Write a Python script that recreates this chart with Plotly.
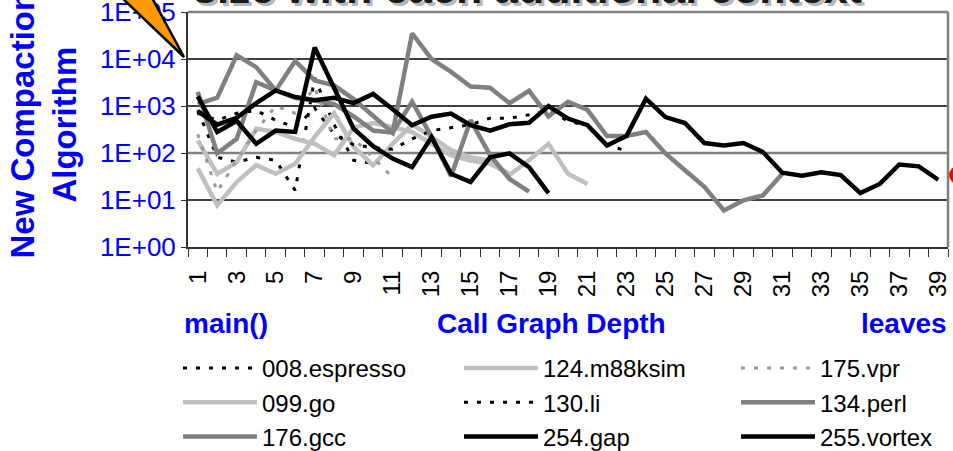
import plotly.graph_objects as go

# ---------------- data ----------------
depth = list(range(1, 40))
tick_vals = list(range(1, 40, 2))
tick_text = [str(v) for v in tick_vals]
y_tick_vals = [1, 10, 100, 1000, 10000, 100000]
y_tick_text = ["1E+00", "1E+01", "1E+02", "1E+03", "1E+04", "1E+05"]

espresso_008 = [810, 81, 64, 81, 70, 16, 4000, 400, 70, 60]
go_099 = [47, 7.7, 24, 55, 36, 59, 220, 700, 135, 55, 157, 400, 220, 115, 81, 69, 34, 70, 157, 36, 22]
m88ksim_124 = [186, 36, 64, 330, 280, 200, 157, 90, 350, 435, 355, 280, 157, 89, 69, 59, 36]
li_130 = [700, 500, 700, 800, 500, 350, 900, 250, 150, 130, 120, 200, 300, 350, 400, 550, 550, 650, 800, 480, 380, 150, 110]
perl_134 = [1100, 1500, 12000, 6700, 2150, 1500, 1300, 1100, 600, 300, 270, 1230, 220, 32, 500, 90, 28, 15]
vpr_175 = [250, 15, 70, 300, 1000, 700, 2500, 200, 200, 80, 30]
gcc_176 = [2000, 98, 200, 3200, 2150, 9100, 3500, 2750, 1400, 600, 270, 35000, 10000, 5300, 2600, 2450,
           1150, 2100, 600, 1230, 830, 230, 230, 280, 98, 43, 19, 6, 9.8, 12.5, 36]
gap_254 = [1600, 280, 480, 157, 300, 280, 17500, 2300, 330, 140, 76, 50, 218, 36, 24, 81, 98, 50, 14]
vortex_255 = [780, 400, 560, 1150, 2150, 1550, 1320, 1500, 1150, 1800, 850, 390, 590, 690, 390, 300,
              410, 440, 1000, 540, 390, 145, 230, 1430, 580, 435, 163, 145, 163, 105, 38, 33, 39, 34,
              14, 22, 57, 52, 27]

# ---------------- geometry helpers (pixels -> paper / container) ----------------
W, H = 953, 451
ML, MR, MT, MB = 188, 5, 12, 204
PW, PH = W - ML - MR, H - MT - MB


def px_x(px):
    return (px - ML) / PW


def px_y(py):
    return (H - MB - py) / PH


def cx(px):
    return px / W


def cy(py):
    return 1 - py / H


LIGHT = "#C0C0C0"
MID = "#808080"
DOT = "4px,9px"

series = [
    ("008.espresso", espresso_008, "black", 3, DOT, "legend", 1),
    ("099.go", go_099, LIGHT, 4.5, "solid", "legend", 2),
    ("124.m88ksim", m88ksim_124, LIGHT, 4.5, "solid", "legend2", 1),
    ("130.li", li_130, "black", 3, DOT, "legend2", 2),
    ("134.perl", perl_134, MID, 4.5, "solid", "legend3", 2),
    ("175.vpr", vpr_175, "#999999", 3, DOT, "legend3", 1),
    ("176.gcc", gcc_176, MID, 4.5, "solid", "legend", 3),
    ("254.gap", gap_254, "black", 4.5, "solid", "legend2", 3),
    ("255.vortex", vortex_255, "black", 4.5, "solid", "legend3", 3),
]

fig = go.Figure()
for name, vals, color, width, dash, leg, rank in series:
    fig.add_trace(go.Scatter(
        x=depth[:len(vals)], y=vals, name=name, mode="lines",
        line=dict(color=color, width=width, dash=dash),
        legend=leg, legendrank=rank,
    ))

FONT = "Arial, Liberation Sans, sans-serif"
leg_common = dict(orientation="v", xanchor="left", yanchor="top", bgcolor="rgba(0,0,0,0)",
                  xref="container", yref="container",
                  font=dict(family=FONT, size=24, color="black"), itemwidth=74,
                  tracegroupgap=0, y=cy(346))

fig.update_layout(
    width=W, height=H,
    margin=dict(l=ML, r=MR, t=MT, b=MB, autoexpand=False),
    paper_bgcolor="white", plot_bgcolor="white",
    legend=dict(x=cx(178), **leg_common),
    legend2=dict(x=cx(459), **leg_common),
    legend3=dict(x=cx(736), **leg_common),
    xaxis=dict(
        range=[0.5, 39.5], tickmode="array", tickvals=tick_vals, ticktext=tick_text,
        tickangle=-90, tickfont=dict(family=FONT, size=24, color="black"),
        ticks="outside", ticklen=12, tickcolor="rgba(0,0,0,0)",
        minor=dict(tickmode="array", tickvals=[i + 0.5 for i in range(0, 40)],
                   ticks="outside", ticklen=8, tickcolor="#333", tickwidth=1),
        showgrid=False, showline=True, linecolor="#333", linewidth=2, zeroline=False,
    ),
    yaxis=dict(
        type="log", range=[0, 5], tickmode="array", tickvals=y_tick_vals, ticktext=y_tick_text,
        tickfont=dict(family=FONT, size=26, color="#0000FF"), ticklabeloverflow="allow",
        ticks="outside", ticklen=5, tickcolor="#333", tickwidth=1,
        showgrid=False,
        showline=True, linecolor="#333", linewidth=2, zeroline=False,
    ),
)

# horizontal grid lines: black at 1E+01, 1E+03, 1E+04; gray at 1E+02; gray top and right borders
for gv in [10, 1000, 10000]:
    fig.add_shape(type="line", xref="paper", yref="y", x0=0, x1=1, y0=gv, y1=gv,
                  line=dict(color="black", width=1.5), layer="below")
fig.add_shape(type="line", xref="paper", yref="y", x0=0, x1=1, y0=100, y1=100,
              line=dict(color=MID, width=2.5), layer="below")
fig.add_shape(type="line", xref="paper", yref="paper", x0=0, x1=1, y0=1, y1=1,
              line=dict(color=MID, width=2.5), layer="above")
fig.add_shape(type="line", xref="paper", yref="paper", x0=1, x1=1, y0=0, y1=1,
              line=dict(color=MID, width=2.5), layer="above")

# orange pointer at top-left
p = [(120, -4), (151, -4), (184, 57)]
path = "M {} {} L {} {} L {} {} Z".format(px_x(p[0][0]), px_y(p[0][1]), px_x(p[1][0]), px_y(p[1][1]),
                                          px_x(p[2][0]), px_y(p[2][1]))
fig.add_shape(type="path", xref="paper", yref="paper", path=path,
              fillcolor="#FF9900", line=dict(color="black", width=2.5), layer="above")

# red dot at right edge
fig.add_shape(type="circle", xref="paper", yref="paper",
              x0=px_x(949), x1=px_x(967), y0=px_y(184), y1=px_y(166),
              fillcolor="#FF0000", line=dict(color="#FF0000", width=0), layer="above")

# cropped title with shadow
title = "<b>size with each additional context</b>"
fig.add_annotation(text=title, xref="paper", yref="paper", x=px_x(527), y=px_y(-12),
                   xanchor="center", yanchor="middle", showarrow=False, xshift=3, yshift=-3,
                   font=dict(family=FONT, size=43, color="#B8B8B8"))
fig.add_annotation(text=title, xref="paper", yref="paper", x=px_x(527), y=px_y(-12),
                   xanchor="center", yanchor="middle", showarrow=False,
                   font=dict(family=FONT, size=43, color="#1A1A1A"))

# y axis title
fig.add_annotation(text="<b>New Compaction<br>Algorithm</b>", xref="paper", yref="paper",
                   x=px_x(43.5), y=px_y(125), xanchor="center", yanchor="middle",
                   textangle=-90, showarrow=False,
                   font=dict(family=FONT, size=33, color="#0000FF"))

# x axis captions
for txt, xc in [("main()", 225.5), ("Call Graph Depth", 551.5), ("leaves", 904)]:
    fig.add_annotation(text="<b>" + txt + "</b>", xref="paper", yref="paper",
                       x=px_x(xc), y=px_y(323), xanchor="center", yanchor="middle",
                       showarrow=False, font=dict(family=FONT, size=28, color="#0000FF"))

fig.write_html("out.html")
